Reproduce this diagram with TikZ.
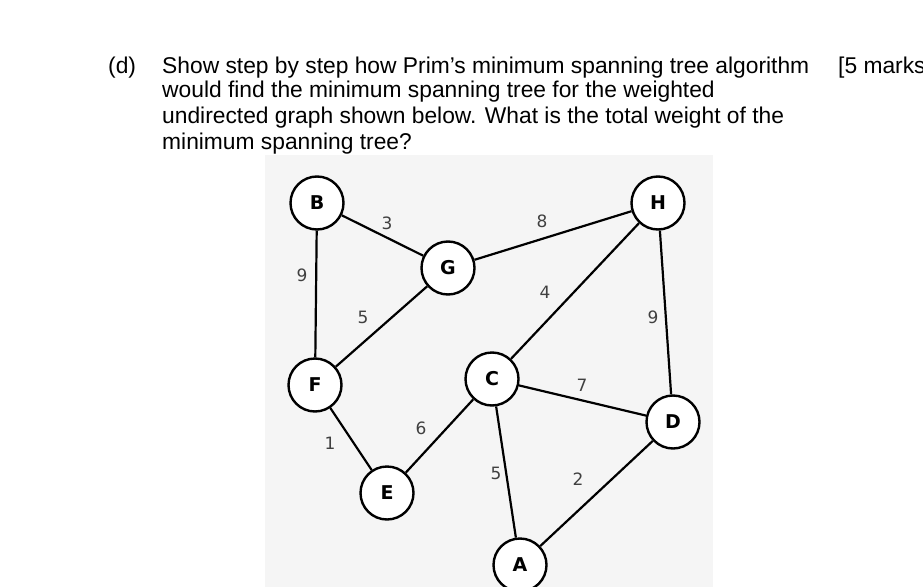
\documentclass[tikz,border=0pt]{standalone}
\usepackage{fontspec}
\setmainfont{Liberation Sans}
\newfontfamily\dvs{DejaVu Sans}
\begin{document}
\begin{tikzpicture}[x=1pt,y=-1pt,
  vtx/.style={circle,draw,line width=2.4pt,fill=white,minimum size=53pt,inner sep=0pt,font=\dvs\bfseries\fontsize{19}{19}\selectfont},
  wt/.style={font=\dvs\fontsize{17}{17}\selectfont,text=black!75},
  edge/.style={line width=2.2pt},
  qtext/.style={anchor=base west,inner sep=0pt,font=\fontsize{22.8}{22.8}\selectfont}]
\useasboundingbox (0,0) rectangle (923,586);
\clip (0,0) rectangle (923,586);
\fill[black!4] (265,155) rectangle (713,590);
\node[qtext] (d) at (108,74) {(d)};
\node[qtext] (l1) at (162,74) {Show step by step how Prim’s minimum spanning tree algorithm};
\node[qtext] (mk) at (838,74) {[5 marks]};
\node[qtext] (l2) at (162,97) {would find the minimum spanning tree for the weighted};
\node[qtext] (l3) at (162,123) {undirected graph shown below. What is the total weight of the};
\node[qtext] (l4) at (162,149) {minimum spanning tree?};
\node[vtx] (B) at (317,203) {B};
\node[vtx] (H) at (658,203) {H};
\node[vtx] (G) at (448,268) {G};
\node[vtx] (F) at (315,385) {F};
\node[vtx] (C) at (492,379) {C};
\node[vtx] (D) at (673,422) {D};
\node[vtx] (E) at (387,493) {E};
\node[vtx] (A) at (520,565) {A};
\draw[edge] (B)--(G) (G)--(H) (B)--(F) (F)--(G) (H)--(C) (H)--(D) (C)--(D) (F)--(E) (E)--(C) (C)--(A) (A)--(D);
\node[wt] (w1) at (387,223) {3};
\node[wt] (w2) at (542,221) {8};
\node[wt] (w3) at (302,275) {9};
\node[wt] (w4) at (545,292) {4};
\node[wt] (w5) at (363,317) {5};
\node[wt] (w6) at (653,317) {9};
\node[wt] (w7) at (582,385) {7};
\node[wt] (w8) at (421,428) {6};
\node[wt] (w9) at (330,443) {1};
\node[wt] (w10) at (496,473) {5};
\node[wt] (w11) at (578,479) {2};
\end{tikzpicture}
\end{document}
